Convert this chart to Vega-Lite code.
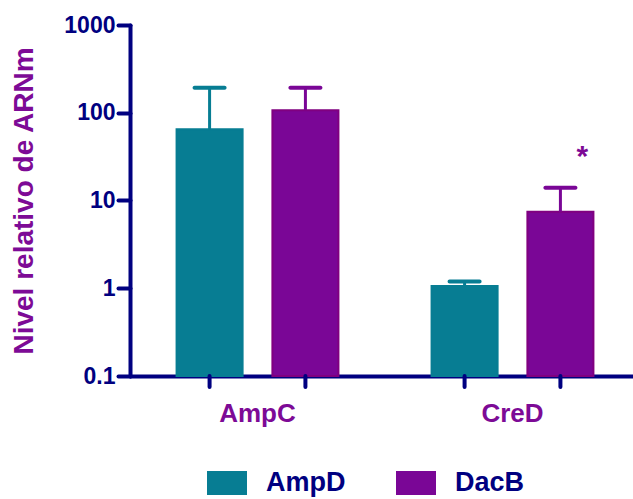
{
  "$schema": "https://vega.github.io/schema/vega-lite/v6.json",
  "width": 503,
  "height": 351,
  "autosize": {"type": "none"},
  "padding": {"left": 130, "top": 25, "right": 0, "bottom": 123},
  "background": "white",
  "config": {
    "view": {"stroke": null},
    "font": "Liberation Sans"
  },
  "data": {
    "values": [
      {"gene": "AmpC", "group": "AmpD", "value": 65, "upper": 193, "star": ""},
      {"gene": "AmpC", "group": "DacB", "value": 107, "upper": 193, "star": ""},
      {"gene": "CreD", "group": "AmpD", "value": 1.06, "upper": 1.19, "star": ""},
      {"gene": "CreD", "group": "DacB", "value": 7.45, "upper": 14, "star": "*"}
    ]
  },
  "encoding": {
    "x": {
      "field": "gene",
      "type": "nominal",
      "scale": {"paddingInner": 0, "paddingOuter": 0, "range": [0, 510]},
      "axis": {
        "title": null,
        "labelAngle": 0,
        "ticks": false,
        "labelFont": "Liberation Sans",
        "labelFontSize": 26,
        "labelFontWeight": "bold",
        "labelColor": "#7D0A96",
        "labelPadding": 24,
        "domainColor": "#000080",
        "domainWidth": 4,
        "domainCap": "round"
      }
    },
    "xOffset": {
      "field": "group",
      "type": "nominal",
      "scale": {"paddingInner": 0.311, "paddingOuter": 0.486}
    }
  },
  "layer": [
    {
      "mark": {"type": "bar", "strokeWidth": 2, "clip": false, "opacity": 1},
      "encoding": {
        "y": {
          "field": "value",
          "type": "quantitative",
          "scale": {"type": "log", "domain": [0.1, 1000], "nice": false},
          "axis": {
            "values": [0.1, 1, 10, 100, 1000],
            "labelExpr": "datum.value < 1 ? '0.1' : format(datum.value, 'd')",
            "grid": false,
            "title": "Nivel relativo de ARNm",
            "titleFont": "Liberation Sans",
            "titleFontSize": 28,
            "titleFontWeight": "bold",
            "titleColor": "#7D0A96",
            "titlePadding": 25,
            "labelFont": "Liberation Sans",
            "labelFontSize": 23,
            "labelFontWeight": "bold",
            "labelColor": "#000080",
            "labelPadding": 3,
            "tickSize": 12,
            "tickWidth": 4,
            "tickColor": "#000080",
            "tickCap": "round",
            "domainColor": "#000080",
            "domainWidth": 4,
            "domainCap": "round"
          }
        },
        "y2": {"datum": 0.1},
        "color": {
          "field": "group",
          "type": "nominal",
          "scale": {"domain": ["AmpD", "DacB"], "range": ["#077D93", "#7A0696"]},
          "legend": {
            "title": null,
            "orient": "none",
            "direction": "horizontal",
            "legendX": 77,
            "legendY": 438,
            "padding": 0,
            "symbolType": "M-1,-0.6H1V0.6H-1Z",
            "symbolSize": 1600,
            "symbolStrokeWidth": 0,
            "symbolOpacity": 1,
            "labelFont": "Liberation Sans",
            "labelFontSize": 27,
            "labelFontWeight": "bold",
            "labelColor": "#000080",
            "labelOffset": 19,
            "columnPadding": 50,
            "labelLimit": 200
          }
        },
        "stroke": {
          "field": "group",
          "type": "nominal",
          "scale": {"domain": ["AmpD", "DacB"], "range": ["#077D93", "#800080"]},
          "legend": null
        }
      }
    },
    {
      "mark": {"type": "rule", "strokeWidth": 3, "opacity": 1},
      "encoding": {
        "y": {"field": "value", "type": "quantitative"},
        "y2": {"field": "upper"},
        "color": {"field": "group", "type": "nominal"}
      }
    },
    {
      "mark": {"type": "tick", "thickness": 4, "size": 34, "cornerRadius": 2, "opacity": 1},
      "encoding": {
        "y": {"field": "upper", "type": "quantitative"},
        "color": {"field": "group", "type": "nominal"}
      }
    },
    {
      "mark": {"type": "rule", "strokeWidth": 4, "color": "#000080", "strokeCap": "round", "y2Offset": 11},
      "encoding": {
        "y": {"datum": 0.1},
        "y2": {"datum": 0.1}
      }
    },
    {
      "transform": [{"filter": "datum.star != ''"}],
      "mark": {"type": "text", "fontSize": 30, "fontWeight": "bold", "font": "Liberation Sans", "color": "#7D0A96", "dx": 22, "baseline": "alphabetic"},
      "encoding": {
        "y": {"datum": 25},
        "text": {"field": "star"}
      }
    }
  ]
}
